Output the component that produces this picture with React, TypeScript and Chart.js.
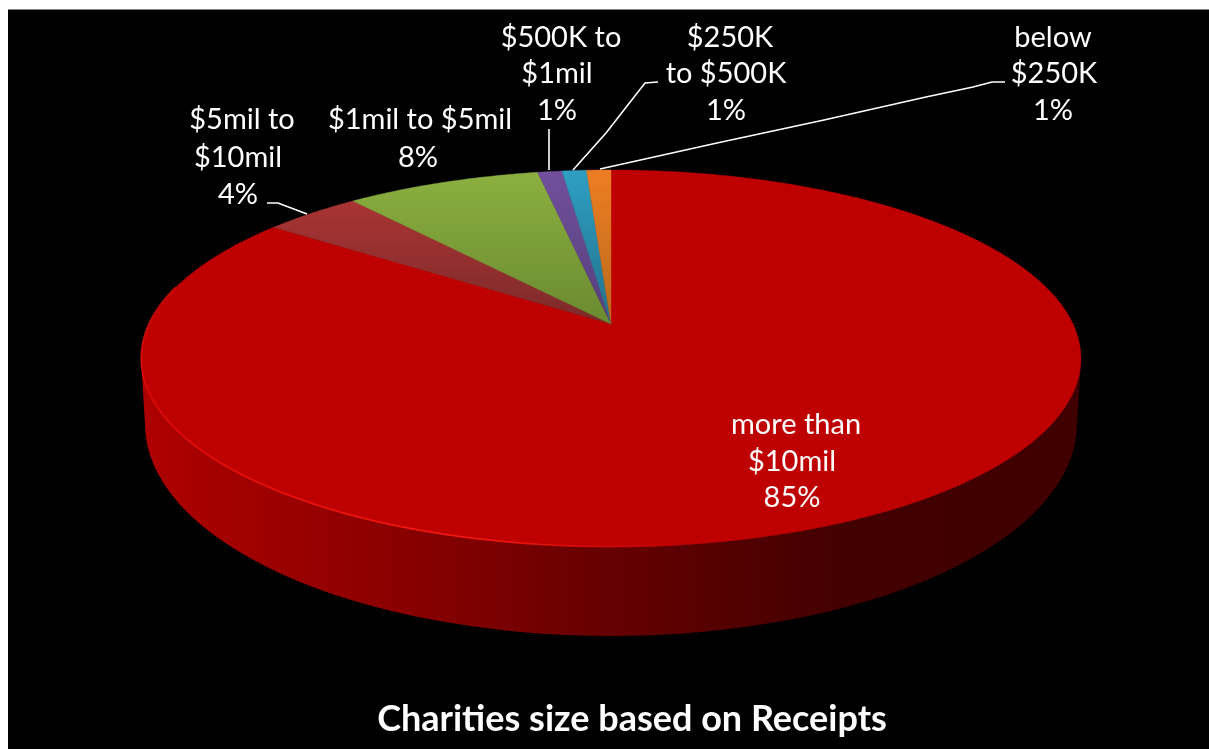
import React, { useEffect, useRef } from "react";
import { Chart, registerables } from "chart.js";

Chart.register(...registerables);

// Receipts share per charity size band, clockwise from twelve o'clock.
const categories = [
  ["more than", "$10mil"],
  ["$5mil to", "$10mil"],
  ["$1mil to $5mil"],
  ["$500K to", "$1mil"],
  ["$250K", "to $500K"],
  ["below", "$250K"],
];
const shares = [85, 4, 8, 1, 1, 1];
const rimColors = ["#be0000", "#b53636", "#8cb040", "#72509c", "#2e9fc2", "#ee7d22"];
const hubColors = ["#be0000", "#7c2a2a", "#6a8a30", "#54407c", "#24708c", "#b86a1c"];
const chartTitle = "Charities size based on Receipts";

// Layout of the tilted disc.
const DISC = { cx: 611, hubY: 324, a: 462, b: 182.2, p: -0.183 };
const BASE = { cx: 611, cy: 424, rx: 466, ry: 212 };
const FRAME = { x: 8, y: 10 };
const WALL_STOPS: [number, string][] = [
  [0, "#ae0000"],
  [0.17, "#980000"],
  [0.34, "#800000"],
  [0.48, "#680000"],
  [0.65, "#500000"],
  [0.76, "#420000"],
  [1, "#400000"],
];

// Label anchor per slice: centre x and baseline y for each text line.
const LABEL_LINES: [number, number][][] = [
  [[796, 434], [792, 471], [792, 507]],
  [[242, 129], [238, 167], [238, 204]],
  [[420, 129], [418, 167]],
  [[561, 47], [557, 83], [557, 120]],
  [[730, 47], [726, 83], [726, 120]],
  [[1053, 47], [1054, 83], [1053, 120]],
];

const LEADERS: [number, number][][] = [
  [],
  [[267, 203], [278, 203], [307, 214]],
  [],
  [[549, 129], [549, 170]],
  [[573, 170], [606, 133], [645, 83], [658, 82]],
  [[600, 169], [717, 143], [824, 120], [926, 97], [973, 87], [992, 82], [1005, 82]],
];

const project = (angle: number) => {
  const u = Math.cos(angle);
  const v = Math.sin(angle);
  const w = 1 + DISC.p * v;
  return [DISC.cx + (DISC.a * u) / w, DISC.hubY + (DISC.b * v) / w];
};

const drawWall = (ctx: CanvasRenderingContext2D) => {
  const grad = ctx.createLinearGradient(BASE.cx - BASE.rx, 0, BASE.cx + BASE.rx, 0);
  WALL_STOPS.forEach(([o, c]) => grad.addColorStop(o, c));
  ctx.fillStyle = grad;
  ctx.beginPath();
  ctx.moveTo(141, 358);
  ctx.lineTo(BASE.cx - BASE.rx, BASE.cy);
  ctx.lineTo(BASE.cx + BASE.rx, BASE.cy);
  ctx.lineTo(1081, 358);
  ctx.closePath();
  ctx.fill();
  ctx.beginPath();
  ctx.ellipse(BASE.cx, BASE.cy, BASE.rx, BASE.ry, 0, 0, Math.PI * 2);
  ctx.fill();
};

// Slices are the library's arc elements, laid onto the tilted disc by their angles.
const tiltedPie = {
  id: "tiltedPie",
  beforeDatasetDraw(chart: any) {
    const { ctx } = chart;
    const arcs = chart.getDatasetMeta(0).data;
    ctx.save();
    drawWall(ctx);
    arcs.forEach((arc: any, i: number) => {
      const { startAngle, endAngle } = arc.getProps(["startAngle", "endAngle"], true);
      const grad = ctx.createLinearGradient(0, DISC.hubY - 154, 0, DISC.hubY);
      grad.addColorStop(0, rimColors[i]);
      grad.addColorStop(1, hubColors[i]);
      ctx.beginPath();
      ctx.moveTo(DISC.cx, DISC.hubY);
      const steps = Math.max(4, Math.ceil((endAngle - startAngle) * 90));
      for (let s = 0; s <= steps; s++) {
        const [x, y] = project(startAngle + ((endAngle - startAngle) * s) / steps);
        ctx.lineTo(x, y);
      }
      ctx.closePath();
      ctx.fillStyle = grad;
      ctx.strokeStyle = grad;
      ctx.lineWidth = 0.4;
      ctx.fill();
      ctx.stroke();
    });
    // Lit rim along the near edge of the large slice.
    const rim = ctx.createLinearGradient(141, 0, 700, 0);
    rim.addColorStop(0, "rgba(255,20,10,0.55)");
    rim.addColorStop(0.55, "rgba(255,30,20,0.9)");
    rim.addColorStop(1, "rgba(255,30,20,0)");
    ctx.strokeStyle = rim;
    ctx.lineWidth = 1.6;
    ctx.beginPath();
    for (let d = 80; d <= 192; d += 1) {
      const [x, y] = project((d * Math.PI) / 180);
      if (d === 80) ctx.moveTo(x, y - 0.5);
      else ctx.lineTo(x, y - 0.5);
    }
    ctx.stroke();
    ctx.restore();
    return false;
  },
  afterDraw(chart: any) {
    const { ctx } = chart;
    ctx.save();
    ctx.strokeStyle = "#ffffff";
    ctx.lineWidth = 1.6;
    LEADERS.forEach((pts) => {
      if (!pts.length) return;
      ctx.beginPath();
      pts.forEach(([x, y], i) => (i ? ctx.lineTo(x, y) : ctx.moveTo(x, y)));
      ctx.stroke();
    });
    ctx.fillStyle = "#ffffff";
    ctx.textAlign = "center";
    ctx.textBaseline = "alphabetic";
    ctx.font = '29px Lato, "Open Sans", sans-serif';
    categories.forEach((lines, i) => {
      const all = [...lines, `${shares[i]}%`];
      all.forEach((t, j) => {
        const [x, y] = LABEL_LINES[i][j];
        ctx.fillText(t, x, y);
      });
    });
    ctx.font = 'bold 36px Lato, "Open Sans", sans-serif';
    ctx.fillText(chartTitle, 632, 731);
    ctx.restore();
  },
  beforeDraw(chart: any) {
    const { ctx, width, height } = chart;
    ctx.save();
    ctx.fillStyle = "#ffffff";
    ctx.fillRect(0, 0, width, height);
    ctx.fillStyle = "#000000";
    ctx.fillRect(FRAME.x, FRAME.y, width - FRAME.x, height - FRAME.y);
    ctx.fillStyle = "#808080";
    ctx.fillRect(FRAME.x, FRAME.y - 1, width - FRAME.x, 1);
    ctx.restore();
  },
};

export default function App() {
  const ref = useRef<HTMLCanvasElement>(null);
  useEffect(() => {
    const chart = new Chart(ref.current!, {
      type: "pie",
      data: {
        labels: categories.map((c) => c.join(" ")),
        datasets: [{ data: shares, backgroundColor: rimColors, borderWidth: 0 }],
      },
      options: {
        animation: false,
        responsive: false,
        devicePixelRatio: 1,
        plugins: { legend: { display: false }, tooltip: { enabled: false }, title: { display: false } },
      },
      plugins: [tiltedPie],
    });
    return () => chart.destroy();
  }, []);
  return (
    <canvas
      ref={ref}
      width={1209}
      height={749}
      style={{ position: "absolute", left: 0, top: 0, display: "block" }}
    />
  );
}
